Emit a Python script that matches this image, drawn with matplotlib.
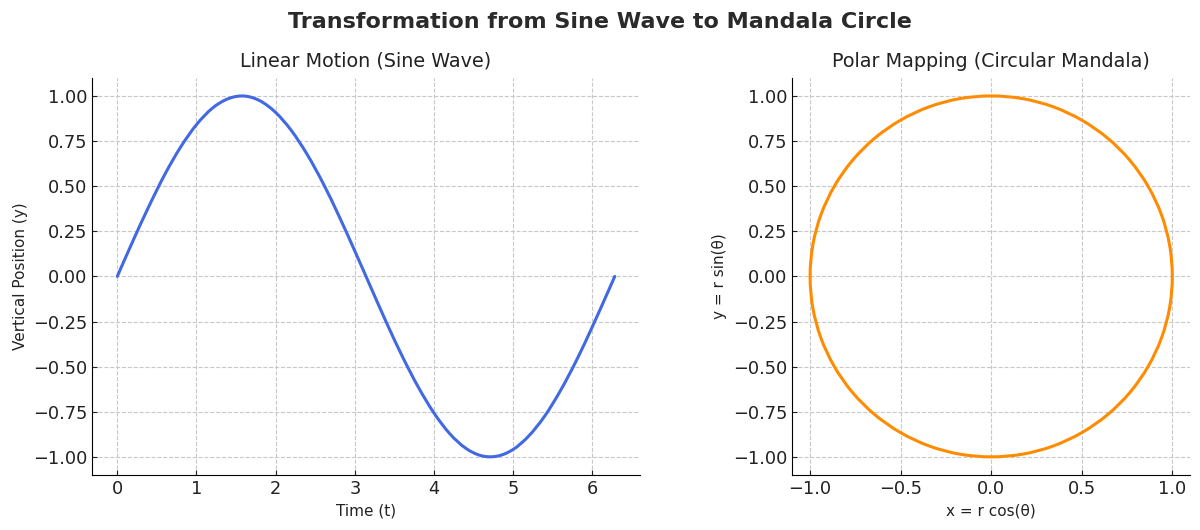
import matplotlib
matplotlib.use("Agg")
import matplotlib.pyplot as plt
from matplotlib.path import Path
from matplotlib.patches import PathPatch

# sine wave, values
t_vals = [0.0, 0.2, 0.4, 0.6, 0.8, 1.0, 1.2, 1.4, 1.6, 1.8, 2.0, 2.2, 2.4, 2.6,
          2.8, 3.0, 3.2, 3.4, 3.6, 3.8, 4.0, 4.2, 4.4, 4.6, 4.8, 5.0, 5.2,
          5.4, 5.6, 5.8, 6.0, 6.2, 6.283]
y_vals = [0.0, 0.199, 0.389, 0.565, 0.717, 0.841, 0.932, 0.985, 1.0, 0.974,
          0.909, 0.808, 0.675, 0.516, 0.335, 0.141, -0.058, -0.256, -0.443,
          -0.612, -0.757, -0.872, -0.952, -0.994, -0.996, -0.959, -0.883,
          -0.773, -0.631, -0.465, -0.279, -0.083, 0.0]

# circle, points (every 10 degrees)
cx = [1.0, 0.985, 0.940, 0.866, 0.766, 0.643, 0.5, 0.342, 0.174, 0.0,
      -0.174, -0.342, -0.5, -0.643, -0.766, -0.866, -0.940, -0.985, -1.0,
      -0.985, -0.940, -0.866, -0.766, -0.643, -0.5, -0.342, -0.174, 0.0,
      0.174, 0.342, 0.5, 0.643, 0.766, 0.866, 0.940, 0.985, 1.0]
cy = [0.0, 0.174, 0.342, 0.5, 0.643, 0.766, 0.866, 0.940, 0.985, 1.0,
      0.985, 0.940, 0.866, 0.766, 0.643, 0.5, 0.342, 0.174, 0.0,
      -0.174, -0.342, -0.5, -0.643, -0.766, -0.866, -0.940, -0.985, -1.0,
      -0.985, -0.940, -0.866, -0.766, -0.643, -0.5, -0.342, -0.174, 0.0]

y_ticks = [-1.0, -0.75, -0.5, -0.25, 0.0, 0.25, 0.5, 0.75, 1.0]
x_ticks_right = [-1.0, -0.5, 0.0, 0.5, 1.0]


def smooth_path(xs, ys, closed=False):
    # draw the read points as a smooth curve (catmull-rom as bezier segments)
    pts = list(zip(xs, ys))
    n = len(pts)
    verts = [pts[0]]
    codes = [Path.MOVETO]
    for i in range(n - 1):
        if closed:
            p0 = pts[i - 1] if i > 0 else pts[n - 2]
            p3 = pts[i + 2] if i + 2 < n else pts[1]
        else:
            p0 = pts[max(i - 1, 0)]
            p3 = pts[min(i + 2, n - 1)]
        p1, p2 = pts[i], pts[i + 1]
        c1 = (p1[0] + (p2[0] - p0[0]) / 6, p1[1] + (p2[1] - p0[1]) / 6)
        c2 = (p2[0] - (p3[0] - p1[0]) / 6, p2[1] - (p3[1] - p1[1]) / 6)
        verts += [c1, c2, p2]
        codes += [Path.CURVE4] * 3
    return Path(verts, codes)


plt.rcParams['font.family'] = ['DejaVu Sans']
plt.rcParams['text.color'] = '#222222'
plt.rcParams['axes.labelcolor'] = '#222222'

fig = plt.figure(figsize=(12, 5.3), dpi=100)
ax1 = fig.add_axes([0.077, 0.104, 0.456, 0.749])
ax2 = fig.add_axes([0.66, 0.104, 0.332, 0.749])

ax1.add_patch(PathPatch(smooth_path(t_vals, y_vals), fill=False,
                        edgecolor='royalblue', lw=2.2, capstyle='round'))
ax1.set_title("Linear Motion (Sine Wave)", fontsize=13.8, pad=8)
ax1.set_xlabel("Time (t)", fontsize=11)
ax1.set_ylabel("Vertical Position (y)", fontsize=11)

ax2.add_patch(PathPatch(smooth_path(cx, cy, closed=True), fill=False,
                        edgecolor='darkorange', lw=2.2))
ax2.set_title("Polar Mapping (Circular Mandala)", fontsize=13.8, pad=8)
ax2.set_xlabel("x = r cos(θ)", fontsize=11)
ax2.set_ylabel("y = r sin(θ)", fontsize=11)
ax2.set_xticks(x_ticks_right)

for ax in (ax1, ax2):
    ax.autoscale_view()
    ax.set_yticks(y_ticks)
    ax.grid(True, linestyle='--', color='#c8c8c8', linewidth=0.8)
    ax.spines['top'].set_visible(False)
    ax.spines['right'].set_visible(False)
    ax.tick_params(direction='in', labelsize=12.8, colors='#222222')
    ax.set_axisbelow(True)

fig.suptitle("Transformation from Sine Wave to Mandala Circle",
             fontsize=16, fontweight='bold', y=0.978, color='#2a2a2a')

fig.savefig("out.png", dpi=100)
